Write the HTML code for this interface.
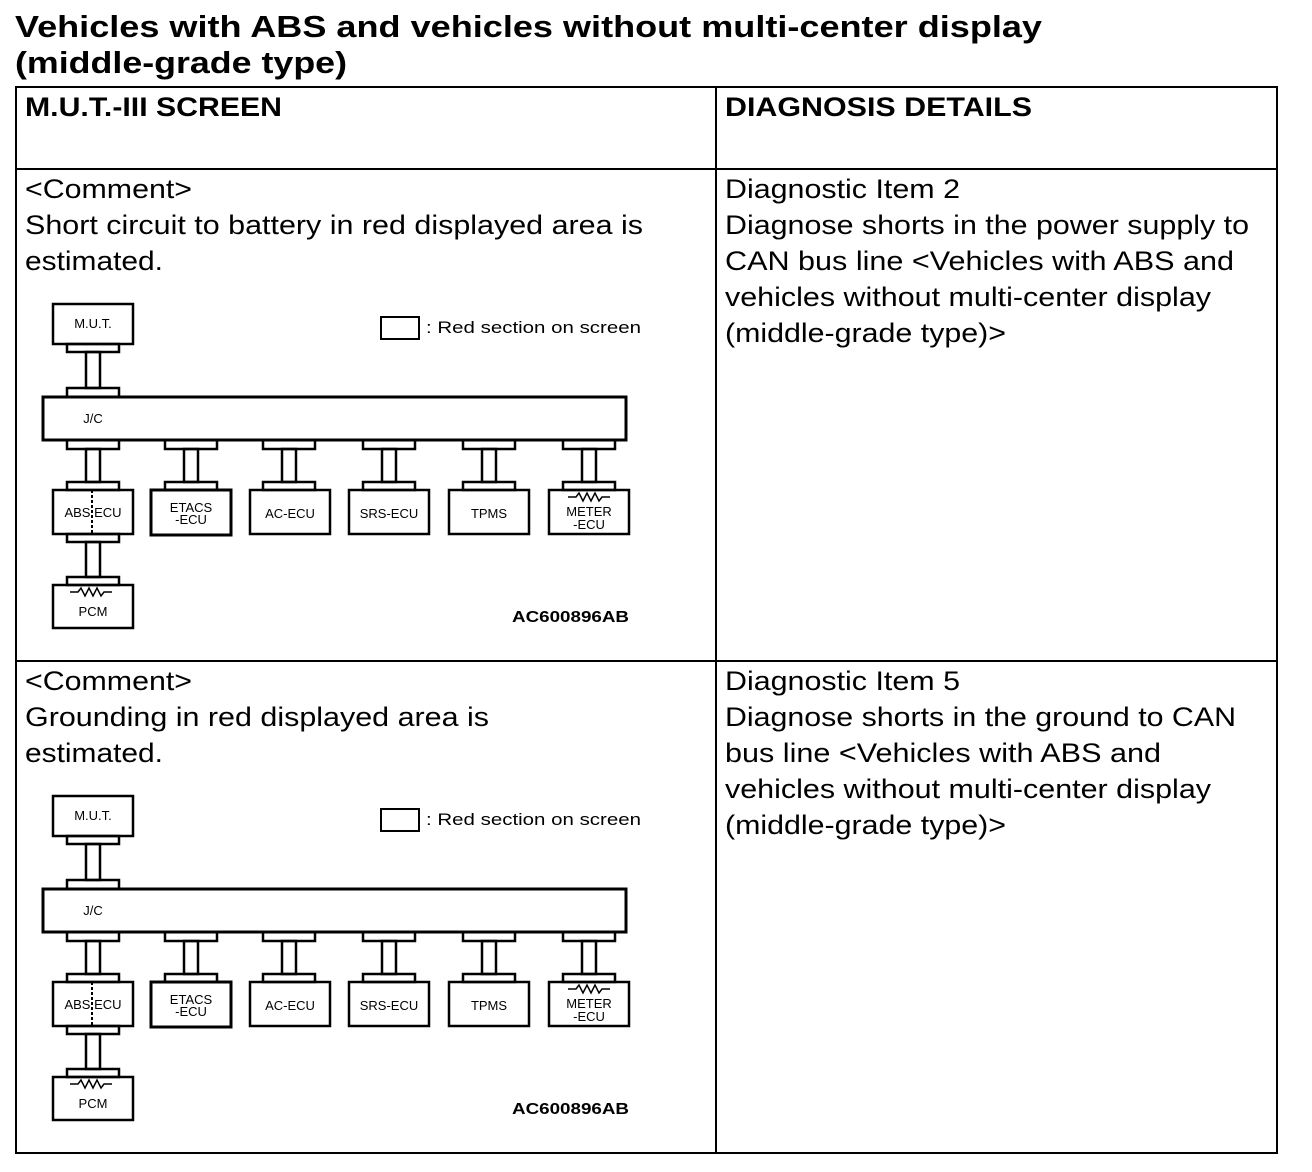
<!DOCTYPE html>
<html><head><style>body{margin:0;background:#fff}svg{display:block}</style></head>
<body>
<svg width="1312" height="1172" viewBox="0 0 1312 1172" xmlns="http://www.w3.org/2000/svg" font-family="Liberation Sans, Arial, sans-serif">
<rect width="1312" height="1172" fill="#fff"/>
<g font-weight="bold" font-size="31">
<text x="15" y="37" textLength="1027" lengthAdjust="spacingAndGlyphs">Vehicles with ABS and vehicles without multi-center display</text>
<text x="15" y="73" textLength="332" lengthAdjust="spacingAndGlyphs">(middle-grade type)</text>
</g>
<g fill="none" stroke="#000" stroke-width="2">
<rect x="16" y="87" width="1261" height="1066"/>
<line x1="716" y1="87" x2="716" y2="1153"/>
<line x1="16" y1="169" x2="1277" y2="169"/>
<line x1="16" y1="661" x2="1277" y2="661"/>
</g>
<g font-weight="bold" font-size="27">
<text x="25" y="116" textLength="257" lengthAdjust="spacingAndGlyphs">M.U.T.-III SCREEN</text>
<text x="725" y="116" textLength="307" lengthAdjust="spacingAndGlyphs">DIAGNOSIS DETAILS</text>
</g>
<g font-size="27">
<text x="25" y="198" textLength="167" lengthAdjust="spacingAndGlyphs">&lt;Comment&gt;</text>
<text x="25" y="234" textLength="618" lengthAdjust="spacingAndGlyphs">Short circuit to battery in red displayed area is</text>
<text x="25" y="270" textLength="138" lengthAdjust="spacingAndGlyphs">estimated.</text>
<text x="725" y="198" textLength="235" lengthAdjust="spacingAndGlyphs">Diagnostic Item 2</text>
<text x="725" y="234" textLength="524" lengthAdjust="spacingAndGlyphs">Diagnose shorts in the power supply to</text>
<text x="725" y="270" textLength="509" lengthAdjust="spacingAndGlyphs">CAN bus line &lt;Vehicles with ABS and</text>
<text x="725" y="306" textLength="486" lengthAdjust="spacingAndGlyphs">vehicles without multi-center display</text>
<text x="725" y="342" textLength="281" lengthAdjust="spacingAndGlyphs">(middle-grade type)&gt;</text>

<text x="25" y="690" textLength="167" lengthAdjust="spacingAndGlyphs">&lt;Comment&gt;</text>
<text x="25" y="726" textLength="464" lengthAdjust="spacingAndGlyphs">Grounding in red displayed area is</text>
<text x="25" y="762" textLength="138" lengthAdjust="spacingAndGlyphs">estimated.</text>
<text x="725" y="690" textLength="235" lengthAdjust="spacingAndGlyphs">Diagnostic Item 5</text>
<text x="725" y="726" textLength="511" lengthAdjust="spacingAndGlyphs">Diagnose shorts in the ground to CAN</text>
<text x="725" y="762" textLength="436" lengthAdjust="spacingAndGlyphs">bus line &lt;Vehicles with ABS and</text>
<text x="725" y="798" textLength="486" lengthAdjust="spacingAndGlyphs">vehicles without multi-center display</text>
<text x="725" y="834" textLength="281" lengthAdjust="spacingAndGlyphs">(middle-grade type)&gt;</text>
</g>

<!-- Diagram 1 -->
<g fill="none" stroke="#000" stroke-width="2.5">
<rect x="53" y="304" width="80" height="40"/>
<rect x="67" y="344" width="52" height="8"/><rect x="86" y="352" width="14" height="36"/><rect x="67" y="388" width="52" height="9"/>
<rect x="43" y="397" width="583" height="43" stroke-width="3"/>
<rect x="67" y="440" width="52" height="9"/><rect x="86" y="449" width="14" height="33"/><rect x="67" y="482" width="52" height="8"/>
<rect x="165" y="440" width="52" height="9"/><rect x="184" y="449" width="14" height="33"/><rect x="165" y="482" width="52" height="8"/>
<rect x="263" y="440" width="52" height="9"/><rect x="282" y="449" width="14" height="33"/><rect x="263" y="482" width="52" height="8"/>
<rect x="363" y="440" width="52" height="9"/><rect x="382" y="449" width="14" height="33"/><rect x="363" y="482" width="52" height="8"/>
<rect x="463" y="440" width="52" height="9"/><rect x="482" y="449" width="14" height="33"/><rect x="463" y="482" width="52" height="8"/>
<rect x="563" y="440" width="52" height="9"/><rect x="582" y="449" width="14" height="33"/><rect x="563" y="482" width="52" height="8"/>
<rect x="53" y="490" width="80" height="44"/>
<rect x="151" y="490" width="80" height="45" stroke-width="3"/>
<rect x="250" y="490" width="80" height="44"/>
<rect x="349" y="490" width="80" height="44"/>
<rect x="449" y="490" width="80" height="44"/>
<rect x="549" y="490" width="80" height="44"/>
<rect x="67" y="534" width="52" height="8"/><rect x="86" y="542" width="14" height="35"/><rect x="67" y="577" width="52" height="8"/>
<rect x="53" y="585" width="80" height="43"/>
<line x1="92" y1="490" x2="92" y2="534" stroke-dasharray="3,2" stroke-width="2"/>
<polyline points="70,592 78,592 81,588 85,596 89,588 93,596 97,588 101,596 104,592 112,592" stroke-width="1.5"/>
<polyline points="568,497 576,497 579,493 583,501 587,493 591,501 595,493 599,501 602,497 610,497" stroke-width="1.5"/>
<rect x="381" y="317" width="38" height="22" stroke-width="2"/>
</g>
<g font-size="13" text-anchor="middle">
<text x="93" y="328">M.U.T.</text>
<text x="93" y="423">J/C</text>
<text x="93" y="517">ABS ECU</text>
<text x="191" y="512">ETACS</text><text x="191" y="524">-ECU</text>
<text x="290" y="518">AC-ECU</text>
<text x="389" y="518">SRS-ECU</text>
<text x="489" y="518">TPMS</text>
<text x="589" y="516">METER</text><text x="589" y="529">-ECU</text>
<text x="93" y="616">PCM</text>
<text x="426" y="333" text-anchor="start" font-size="17" textLength="215" lengthAdjust="spacingAndGlyphs">: Red section on screen</text>
<text x="512" y="622" text-anchor="start" font-size="16" font-weight="bold" textLength="117" lengthAdjust="spacingAndGlyphs">AC600896AB</text>
</g>

<!-- Diagram 2 -->
<g transform="translate(0,492)">
<g fill="none" stroke="#000" stroke-width="2.5">
<rect x="53" y="304" width="80" height="40"/>
<rect x="67" y="344" width="52" height="8"/><rect x="86" y="352" width="14" height="36"/><rect x="67" y="388" width="52" height="9"/>
<rect x="43" y="397" width="583" height="43" stroke-width="3"/>
<rect x="67" y="440" width="52" height="9"/><rect x="86" y="449" width="14" height="33"/><rect x="67" y="482" width="52" height="8"/>
<rect x="165" y="440" width="52" height="9"/><rect x="184" y="449" width="14" height="33"/><rect x="165" y="482" width="52" height="8"/>
<rect x="263" y="440" width="52" height="9"/><rect x="282" y="449" width="14" height="33"/><rect x="263" y="482" width="52" height="8"/>
<rect x="363" y="440" width="52" height="9"/><rect x="382" y="449" width="14" height="33"/><rect x="363" y="482" width="52" height="8"/>
<rect x="463" y="440" width="52" height="9"/><rect x="482" y="449" width="14" height="33"/><rect x="463" y="482" width="52" height="8"/>
<rect x="563" y="440" width="52" height="9"/><rect x="582" y="449" width="14" height="33"/><rect x="563" y="482" width="52" height="8"/>
<rect x="53" y="490" width="80" height="44"/>
<rect x="151" y="490" width="80" height="45" stroke-width="3"/>
<rect x="250" y="490" width="80" height="44"/>
<rect x="349" y="490" width="80" height="44"/>
<rect x="449" y="490" width="80" height="44"/>
<rect x="549" y="490" width="80" height="44"/>
<rect x="67" y="534" width="52" height="8"/><rect x="86" y="542" width="14" height="35"/><rect x="67" y="577" width="52" height="8"/>
<rect x="53" y="585" width="80" height="43"/>
<line x1="92" y1="490" x2="92" y2="534" stroke-dasharray="3,2" stroke-width="2"/>
<polyline points="70,592 78,592 81,588 85,596 89,588 93,596 97,588 101,596 104,592 112,592" stroke-width="1.5"/>
<polyline points="568,497 576,497 579,493 583,501 587,493 591,501 595,493 599,501 602,497 610,497" stroke-width="1.5"/>
<rect x="381" y="317" width="38" height="22" stroke-width="2"/>
</g>
<g font-size="13" text-anchor="middle">
<text x="93" y="328">M.U.T.</text>
<text x="93" y="423">J/C</text>
<text x="93" y="517">ABS ECU</text>
<text x="191" y="512">ETACS</text><text x="191" y="524">-ECU</text>
<text x="290" y="518">AC-ECU</text>
<text x="389" y="518">SRS-ECU</text>
<text x="489" y="518">TPMS</text>
<text x="589" y="516">METER</text><text x="589" y="529">-ECU</text>
<text x="93" y="616">PCM</text>
<text x="426" y="333" text-anchor="start" font-size="17" textLength="215" lengthAdjust="spacingAndGlyphs">: Red section on screen</text>
<text x="512" y="622" text-anchor="start" font-size="16" font-weight="bold" textLength="117" lengthAdjust="spacingAndGlyphs">AC600896AB</text>
</g>
</g>
</svg>
</body></html>
